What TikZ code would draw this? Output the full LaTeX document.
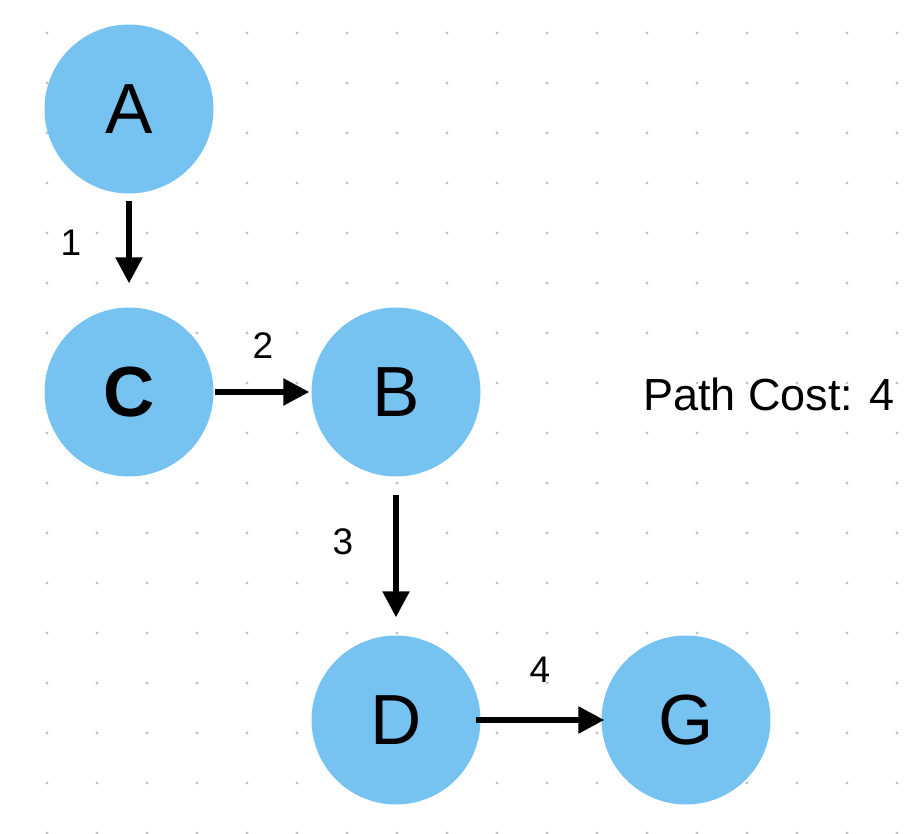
\documentclass[tikz,border=0pt]{standalone}
\usepackage{fontspec}
\setmainfont{Liberation Sans}
\usetikzlibrary{arrows.meta}
\definecolor{nodeblue}{RGB}{118,195,241}
\definecolor{dotgray}{RGB}{192,192,192}
\begin{document}
\begin{tikzpicture}[x=1pt,y=-1pt,
  vertex/.style={circle,fill=nodeblue,minimum size=169pt,inner sep=0pt,font=\fontsize{71}{71}\selectfont},
  edge/.style={line width=5.5pt,-{Triangle[length=26pt,width=26pt]}},
  weight/.style={inner sep=0pt,font=\fontsize{37}{37}\selectfont}]
  \useasboundingbox (0,0) rectangle (922,834);
  \foreach \x in {47,97,...,897}
    \foreach \y in {33,83,...,833}
      \fill[dotgray] (\x,\y) circle (1.7pt);
  \node[vertex] (a) at (129,109) {A};
  \node[vertex] (c) at (129,392) {\bfseries C};
  \node[vertex] (b) at (396,392) {B};
  \node[vertex] (d) at (396,720) {D};
  \node[vertex] (g) at (686,720) {G};
  \draw[edge,shorten <=7pt,shorten >=24pt] (a) -- (c);
  \draw[edge,shorten <=1pt,shorten >=2pt] (c) -- (b);
  \draw[edge,shorten <=18pt,shorten >=18pt] (b) -- (d);
  \draw[edge,shorten <=-5pt,shorten >=-3pt] (d) -- (g);
  \node[weight] (w1) at (71,243) {1};
  \node[weight] (w2) at (263,346) {2};
  \node[weight] (w3) at (343,542) {3};
  \node[weight] (w4) at (540,670) {4};
  \node[inner sep=0pt,font=\fontsize{45}{45}\selectfont] (cost) at (769,394) {Path Cost: 4};
\end{tikzpicture}
\end{document}
